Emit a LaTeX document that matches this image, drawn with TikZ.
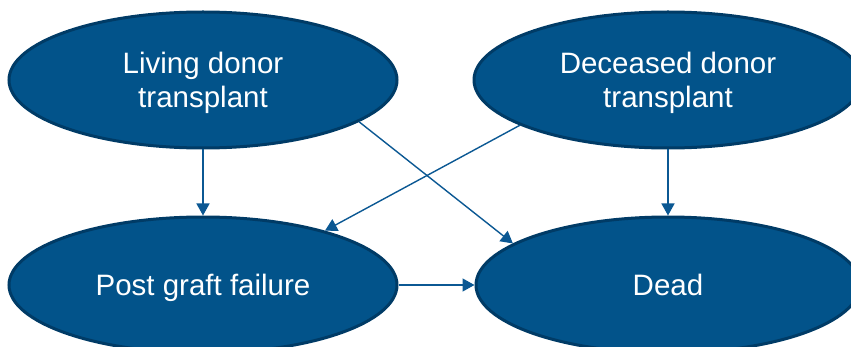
\documentclass[tikz,border=0pt]{standalone}
\usepackage{fontspec}
\setmainfont{Liberation Sans}
\usetikzlibrary{shapes.geometric,arrows.meta}
\definecolor{c1}{HTML}{02538A}
\definecolor{c2}{HTML}{003B66}
\definecolor{c3}{HTML}{0B5893}

\begin{document}
\begin{tikzpicture}[x=1pt, y=-1pt,
        state/.style={ellipse, fill=c1, draw=c2, line width=3pt, inner sep=0pt,
            minimum width=388pt, minimum height=136pt, text=white, align=center,
            text depth=0pt, font=\fontsize{29.5}{34}\selectfont},
        flow/.style={c3, line width=1.4pt, -{Triangle[length=12pt, width=13pt]}}]
        \useasboundingbox (0, 0) rectangle (851, 347);
	\node [state] (live) at (203, 80) {Living donor\\transplant};
	\node [state] (dec) at (668, 80) {Deceased donor\\transplant};
	\node [state] (pgf) at (203, 285) {Post graft failure};
	\node [state, minimum width=384pt] (dead) at (668, 285) {Dead};
	
	\draw [flow] (live.south) -- (pgf.north);
	\draw [flow] (dec.south) -- (dead.north);
	\draw [flow] (live.-15) -- (dead.165);
	\draw [flow] (dec.-163) -- (pgf.24);
	\draw [flow] (pgf.east) -- (dead.west);
    \end{tikzpicture}
\end{document}
